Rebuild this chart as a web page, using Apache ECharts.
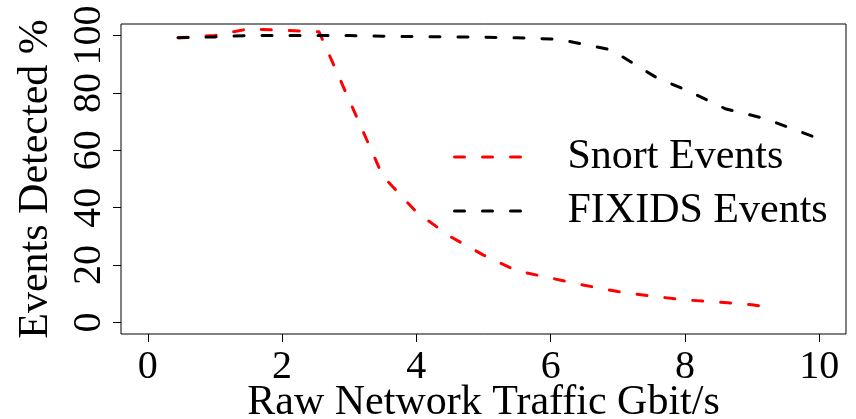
<!DOCTYPE html>
<html>
<head>
<meta charset="utf-8">
<script src="https://cdn.jsdelivr.net/npm/echarts@6/dist/echarts.min.js"></script>
<style>html,body{margin:0;padding:0;background:#fff}#c{width:856px;height:419px}</style>
</head>
<body>
<div id="c"></div>
<script>
const seriesNames = ['Snort Events', 'FIXIDS Events'];
const snortData = [[0.45,99.2],[1.0,100],[1.5,102.3],[2.0,101.8],[2.55,101.3],[3.5,51],[4.0,38.5],[4.5,30],[5.0,23.5],[5.5,18],[6.0,15.5],[6.5,13],[7.0,10.8],[7.5,9.2],[8.0,7.9],[8.5,7.1],[9.0,6.2],[9.3,5.2]];
const fixidsData = [[0.45,99.2],[1.0,99.5],[1.5,100],[2.0,100],[2.5,100],[3.0,100],[3.5,99.7],[4.0,99.6],[4.5,99.5],[5.0,99.4],[5.5,99.2],[6.0,98.8],[6.2,98.3],[6.9,95],[7.6,85],[8.0,81.2],[8.6,74.5],[9.2,71],[10.0,64]];
const xTicks = [0,2,4,6,8,10];
const yTicks = [0,20,40,60,80,100];
const xTitle = 'Raw Network Traffic Gbit/s';
const yTitle = 'Events Detected %';

const font = 'Liberation Serif';
const chart = echarts.init(document.getElementById('c'));
const dash = [10,18];
chart.setOption({
  animation: false,
  backgroundColor: '#fff',
  grid: {left: 121, right: 10, top: 24, bottom: 85, containLabel: false, outerBoundsMode: 'none',
         show: true, borderColor: '#000', borderWidth: 1, backgroundColor: 'transparent'},
  legend: {
    orient: 'vertical', left: 448, top: 131, itemWidth: 72, itemHeight: 12, itemGap: 12,
    itemStyle: {opacity: 0},
    lineStyle: {width: 3, type: dash, cap: 'round'},
    textStyle: {fontFamily: font, fontSize: 42, color: '#000', lineHeight: 40, padding: [0,0,0,36]},
    data: seriesNames.map(n => ({name: n}))
  },
  xAxis: {
    type: 'value', min: -0.4, max: 10.4,
    splitLine: {show: false},
    axisLine: {show: false, onZero: false},
    axisTick: {show: true, inside: false, length: 8, customValues: xTicks, lineStyle: {color: '#000'}},
    axisLabel: {customValues: xTicks, fontFamily: font, fontSize: 40, color: '#000', margin: 13},
    name: xTitle, nameLocation: 'middle', nameGap: 48, nameMoveOverlap: false,
    nameTextStyle: {fontFamily: font, fontSize: 42, color: '#000'}
  },
  yAxis: {
    type: 'value', min: -4, max: 104,
    splitLine: {show: false},
    axisLine: {show: false, onZero: false},
    axisTick: {show: true, inside: false, length: 8, customValues: yTicks, lineStyle: {color: '#000'}},
    axisLabel: {customValues: yTicks, fontFamily: font, fontSize: 40, color: '#000', rotate: 90, margin: 12},
    name: yTitle, nameLocation: 'middle', nameGap: 64, nameRotate: 90, nameMoveOverlap: false,
    nameTextStyle: {fontFamily: font, fontSize: 42, color: '#000'}
  },
  series: [
    {name: seriesNames[0], type: 'line', data: snortData, symbol: 'none', color: '#ff0000',
     lineStyle: {color: '#ff0000', width: 3, type: dash, cap: 'round', join: 'round'}},
    {name: seriesNames[1], type: 'line', data: fixidsData, symbol: 'none', color: '#000000',
     lineStyle: {color: '#000000', width: 3, type: dash, cap: 'round', join: 'round'}}
  ]
});
</script>
</body>
</html>
